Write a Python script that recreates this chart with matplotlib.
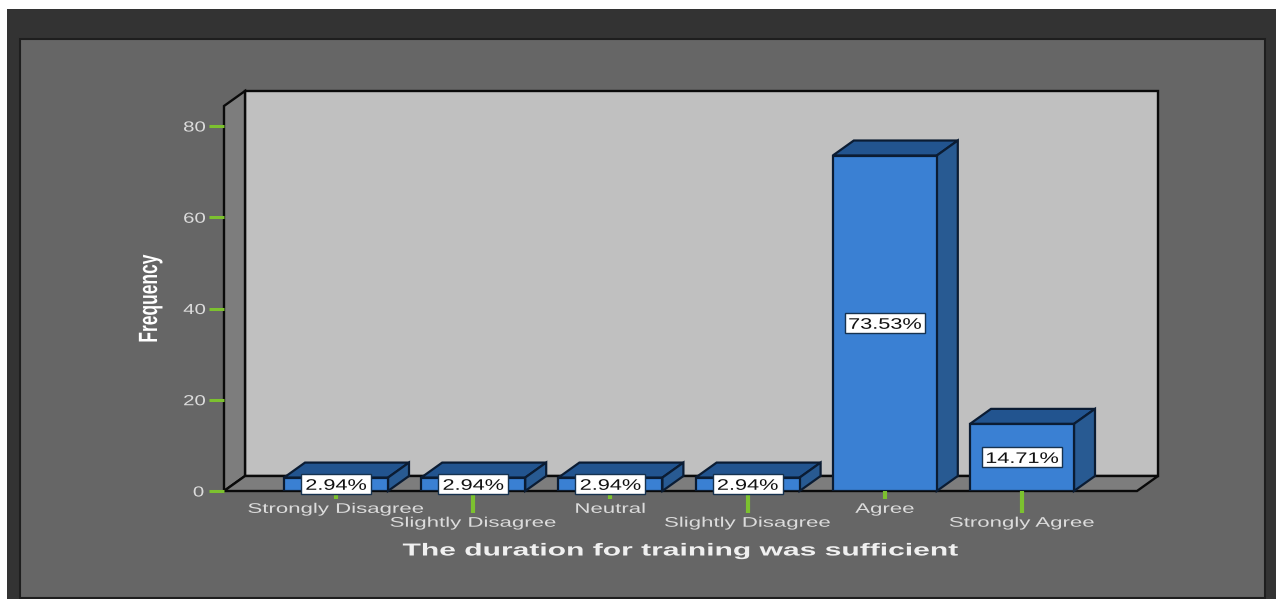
# coding: utf-8
import matplotlib
matplotlib.use("Agg")
import matplotlib.pyplot as plt
from matplotlib.patches import Polygon, Rectangle
from matplotlib.patheffects import AbstractPathEffect
from matplotlib.transforms import Affine2D

plt.rcParams["font.family"] = ["Liberation Sans", "DejaVu Sans"]

categories = ["Strongly Disagree", "Slightly Disagree", "Neutral", "Slightly Disagree", "Agree", "Strongly Agree"]
values = [2.94, 2.94, 2.94, 2.94, 73.53, 14.71]
labels = ["2.94%", "2.94%", "2.94%", "2.94%", "73.53%", "14.71%"]
yticks = [0, 20, 40, 60, 80]

W, H = 1276, 599
GREEN = "#7cc12f"
TEXT = "#dcdcdc"
FRONT = "#3a80d3"
TOP = "#22548f"
SIDE = "#285a92"
EDGE = "#0b1c33"


class Stretch(AbstractPathEffect):
    # the reference image is squashed, so text gets stretched along its baseline
    def __init__(self, sx):
        super().__init__()
        self.sx = sx

    def draw_path(self, renderer, gc, tpath, affine, rgbFace=None):
        e = tpath.get_extents()
        cx = (e.x0 + e.x1) / 2
        t = Affine2D().translate(-cx, 0).scale(self.sx, 1).translate(cx, 0) + affine
        renderer.draw_path(gc, tpath, t, rgbFace)


fig = plt.figure(figsize=(W / 100, H / 100), dpi=100, facecolor="white")


def box(x0, y0, x1, y1, color, **kw):  # pixel box, y counted from the top
    fig.add_artist(Rectangle((x0 / W, 1 - y1 / H), (x1 - x0) / W, (y1 - y0) / H, zorder=-5,
                             transform=fig.transFigure, facecolor=color, **kw))


box(7, 9, W, H, "#333333", edgecolor="none")
box(20, 39, 1265, 598, "#666666", edgecolor="#1e1e1e", linewidth=1.5)

# front plane of the 3d box
ax = fig.add_axes([224 / W, 1 - 491 / H, (1137 - 224) / W, (491 - 106) / H])
ax.patch.set_visible(False)
ppx = 137.2
ppy = 365 / 80
ax.set_xlim((224 - 336) / ppx, (1137 - 336) / ppx)
ax.set_ylim(0, (491 - 106) / ppy)
dx = 21 / ppx
dy = 15 / ppy
x0, x1 = ax.get_xlim()
y0, y1 = ax.get_ylim()
for s in ax.spines.values():
    s.set_visible(False)

wall = dict(edgecolor="#0a0a0a", linewidth=1.7, clip_on=False, joinstyle="miter")
ax.add_patch(Polygon([(x0 + dx, y0 + dy), (x1 + dx, y0 + dy), (x1 + dx, y1 + dy), (x0 + dx, y1 + dy)],
                     facecolor="#c0c0c0", zorder=1, **wall))
ax.add_patch(Polygon([(x0, y0), (x0 + dx, y0 + dy), (x0 + dx, y1 + dy), (x0, y1)],
                     facecolor="#7d7d7d", zorder=1, **wall))
ax.add_patch(Polygon([(x0, y0), (x1, y0), (x1 + dx, y0 + dy), (x0 + dx, y0 + dy)],
                     facecolor="#7d7d7d", zorder=1, **wall))

bw = 104 / ppx
for i, v in enumerate(values):
    l, r = i - bw / 2, i + bw / 2
    ax.add_patch(Polygon([(l, v), (r, v), (r + dx, v + dy), (l + dx, v + dy)], facecolor=TOP,
                         edgecolor=EDGE, linewidth=1.6, zorder=3, clip_on=False))
    ax.add_patch(Polygon([(r, 0), (r + dx, dy), (r + dx, v + dy), (r, v)], facecolor=SIDE,
                         edgecolor=EDGE, linewidth=1.6, zorder=3, clip_on=False))
ax.bar(range(len(values)), values, width=bw, color=FRONT, edgecolor=EDGE, linewidth=1.6, zorder=4)

for i, v in enumerate(values):
    bwid = (20 + 10 * len(labels[i])) / ppx
    bhei = 20 / ppy
    ax.add_patch(Rectangle((i - bwid / 2, v / 2 - bhei / 2), bwid, bhei, facecolor="white",
                           edgecolor="#16324f", linewidth=1, zorder=5, clip_on=False))
    t = ax.text(i, v / 2, labels[i], ha="center", va="center_baseline", fontsize=11, color="#111111",
                zorder=6, clip_on=False)
    t.set_path_effects([Stretch(1.42)])

ax.set_yticks(yticks)
ax.tick_params(axis="y", length=10.8, width=2.2, color=GREEN, labelcolor=TEXT, labelsize=10.5, pad=4.5)
for t in ax.get_yticklabels():
    t.set_path_effects([Stretch(1.4)])
ax.set_xticks(range(len(categories)))
ax.set_xticklabels(categories)
ax.tick_params(axis="x", length=5.8, width=3, color=GREEN, labelcolor=TEXT, labelsize=10)
for i, t in enumerate(ax.xaxis.get_major_ticks()):
    # every second label sits one row lower, on a longer tick
    t.set_pad(12 if i % 2 else 2)
    if i % 2:
        t.tick1line.set_markersize(16)
    t.label1.set_path_effects([Stretch(1.6)])

ylab = fig.text(150 / W, 1 - 299 / H, "Frequency", rotation=90, ha="center", va="center", color="white",
                fontsize=19, fontweight="bold")
ylab.set_path_effects([Stretch(0.66)])
xlab = fig.text(681 / W, 1 - 551 / H, "The duration for training was sufficient", ha="center", va="center",
                color="#f0f0f0", fontsize=12.5, fontweight="bold")
xlab.set_path_effects([Stretch(1.73)])

fig.savefig("out.png", dpi=100, facecolor="white")
